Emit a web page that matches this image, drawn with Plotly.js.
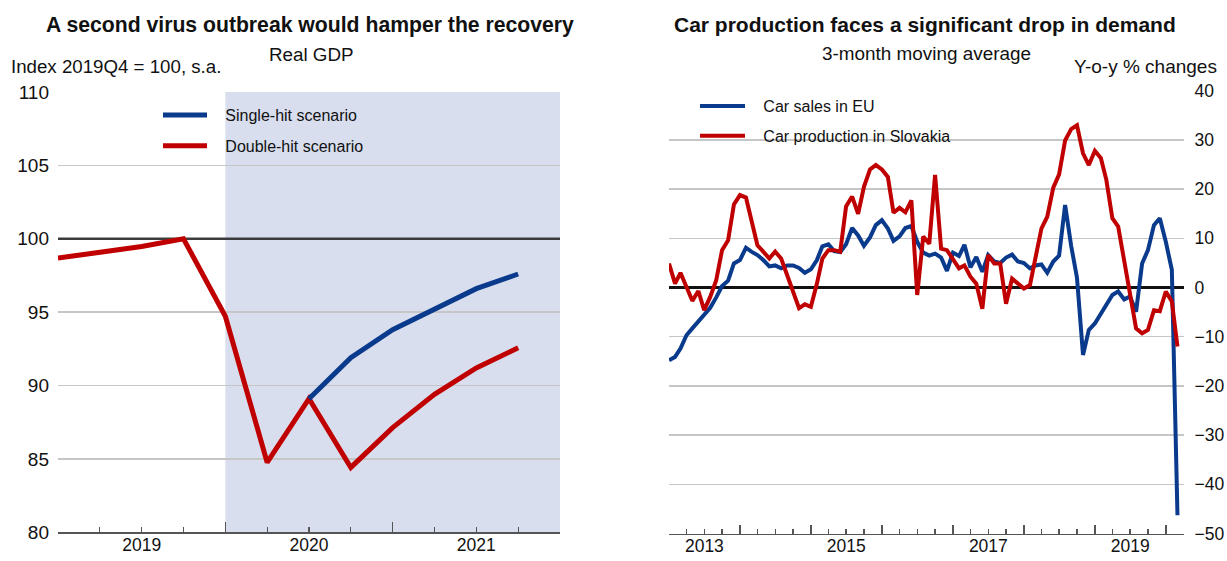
<!DOCTYPE html>
<html>
<head>
<meta charset="utf-8">
<script src="https://cdn.plot.ly/plotly-3.0.1.min.js"></script>
<style>html,body{margin:0;padding:0;background:#fff}#chart{width:1227px;height:561px}</style>
</head>
<body>
<div id="chart"></div>
<script>
// ---------- Left panel: Real GDP (index 2019Q4 = 100) ----------
const quarters = ['2019Q1','2019Q2','2019Q3','2019Q4','2020Q1','2020Q2','2020Q3','2020Q4','2021Q1','2021Q2','2021Q3','2021Q4'];
const singleHit = [null, null, null, null, null, null, 89.1, 91.9, 93.8, 95.2, 96.6, 97.6];
const doubleHit = [98.68, 99.07, 99.47, 100.0, 94.72, 84.76, 89.1, 84.42, 87.13, 89.4, 91.2, 92.57];
const gdpYears = ['2019', '2020', '2021'];
const projectionStart = '2020Q1';
const projectionEnd = '2022Q1';
const baseLevel = 100;

// ---------- Right panel: cars, y-o-y % changes, 3-month moving average ----------
const monthStart = '2013-01';   // first month of the series (monthly data through 2020-03)
const carSalesEU = [
  -14.8, -14.1, -12.4, -9.7, -8.3, -6.8, -5.3, -4.1, -2.0, 0.3, 1.4, 4.9,
  5.6, 8.1, 7.3, 6.6, 5.6, 4.3, 4.5, 3.9, 4.5, 4.5, 4.0, 3.0,
  3.7, 5.6, 8.4, 8.8, 7.4, 7.2, 8.8, 12.1, 10.6, 8.5, 10.2, 12.7,
  13.7, 12.0, 9.5, 10.4, 12.1, 12.5, 9.3, 7.1, 6.5, 6.9, 6.1, 3.4,
  7.1, 6.4, 8.7, 4.1, 6.2, 3.2, 6.6, 5.3, 5.0, 6.1, 6.7, 5.3,
  5.0, 3.9, 4.5, 4.7, 3.0, 5.3, 6.5, 16.8, 8.5, 2.0, -13.7, -8.6,
  -7.3, -5.2, -3.2, -1.5, -0.8, -2.4, -1.8, -4.9, 4.9, 7.6, 12.7, 14.1,
  9.3, 3.6, -46.3
];
const carProdSK = [
  4.9, 0.8, 3.0, 0.1, -2.7, -0.7, -4.6, -1.9, 1.5, 7.6, 9.6, 16.9,
  18.8, 18.3, 14.0, 8.6, 7.3, 5.9, 7.3, 5.9, 2.5, -0.9, -4.2, -3.4,
  -3.9, 0.8, 5.9, 7.6, 7.6, 7.3, 16.5, 18.5, 15.0, 20.5, 24.0, 24.9,
  24.0, 22.5, 15.2, 16.2, 15.3, 17.7, -1.5, 10.4, 8.9, 22.9, 7.9, 7.6,
  5.7, 3.9, 4.5, 2.2, 0.8, -4.3, 6.6, 4.9, 4.9, -3.3, 1.8, 0.9,
  -0.2, 0.5, 6.2, 12.0, 14.4, 20.3, 23.0, 29.9, 32.2, 33.0, 27.3, 24.9,
  27.8, 26.3, 21.9, 14.1, 12.4, 5.6, -1.8, -8.3, -9.3, -8.6, -4.6, -4.8,
  -0.8, -2.8, -12.0
];
const carYearLabels = ['2013', '2015', '2017', '2019'];
const carAxisStart = '2013-01-01';
const carAxisEnd = '2020-04-01';

// ---------- helpers ----------
function quarterToNum(q) { return +q.slice(0, 4) + (+q.slice(5) - 1) / 4; }
function monthList(start, n) {
  const out = []; let y = +start.slice(0, 4), m = +start.slice(5, 7) - 1;
  for (let i = 0; i < n; i++) { const yy = y + Math.floor((m + i) / 12), mm = (m + i) % 12 + 1; out.push(yy + '-' + String(mm).padStart(2, '0') + '-01'); }
  return out;
}
const qx = quarters.map(quarterToNum);
const months = monthList(monthStart, carSalesEU.length);
const gdpRange = [quarterToNum(quarters[0]), quarterToNum(projectionEnd)];

const BLUE = '#0a3a8c', RED = '#c00000';
const FONT = 'Liberation Sans, Arial, sans-serif';
const TXT = '#111';
const GRID = '#c6c6c6';
const AX = '#555';
const PAD = '\u00a0\u00a0\u00a0';

const W = 1227, H = 561;
const px = v => v / W, py = v => 1 - v / H;

const traces = [
  {x: gdpRange, y: [baseLevel, baseLevel], mode: 'lines', line: {color: '#3c3c3c', width: 2.5}, xaxis: 'x', yaxis: 'y', showlegend: false, hoverinfo: 'skip'},
  {x: qx, y: doubleHit, name: PAD + 'Double-hit scenario', mode: 'lines', line: {color: RED, width: 5}, xaxis: 'x', yaxis: 'y', legend: 'legend', legendgroup: 'd', legendrank: 2, hoverinfo: 'skip'},
  {x: qx, y: singleHit, name: PAD + 'Single-hit scenario', mode: 'lines', line: {color: BLUE, width: 5}, xaxis: 'x', yaxis: 'y', legend: 'legend', legendgroup: 's', legendrank: 1, hoverinfo: 'skip'},
  {x: [qx[0]], y: [baseLevel], mode: 'lines', xaxis: 'x3', yaxis: 'y', showlegend: false, hoverinfo: 'skip', line: {width: 0}},
  {x: months, y: carSalesEU, name: PAD + 'Car sales in EU', mode: 'lines', line: {color: BLUE, width: 4}, xaxis: 'x2', yaxis: 'y2', legend: 'legend2', legendgroup: 'e', legendrank: 1, hoverinfo: 'skip'},
  {x: months, y: carProdSK, name: PAD + 'Car production in Slovakia', mode: 'lines', line: {color: RED, width: 4}, xaxis: 'x2', yaxis: 'y2', legend: 'legend2', legendgroup: 'p', legendrank: 2, hoverinfo: 'skip'},
  {x: [months[0]], y: [0], mode: 'lines', xaxis: 'x4', yaxis: 'y2', showlegend: false, hoverinfo: 'skip', line: {width: 0}}
];

const leftDomX = [px(58), px(560)];
const rightDomX = [px(669), px(1183.5)];
const yDomL = [1 - 532.3 / H, 1 - 92 / H];
const yDomR = [1 - 533.5 / H, 1 - 90.8 / H];

const layout = {
  width: W, height: H,
  margin: {l: 0, r: 0, t: 0, b: 0},
  paper_bgcolor: '#fff', plot_bgcolor: 'rgba(0,0,0,0)',
  font: {family: FONT, color: TXT, size: 17},
  showlegend: true,
  xaxis: {
    domain: leftDomX, anchor: 'y', range: gdpRange,
    tickmode: 'linear', tick0: gdpRange[0], dtick: 1,
    ticks: 'inside', ticklen: 10, tickwidth: 1.5, tickcolor: AX, showticklabels: false,
    minor: {tick0: gdpRange[0], dtick: 0.25, ticks: 'inside', ticklen: 5, tickwidth: 1.2, tickcolor: AX, showgrid: false},
    showgrid: false, zeroline: false, showline: true, linecolor: AX, linewidth: 2, fixedrange: true
  },
  xaxis3: {
    overlaying: 'x', anchor: 'y', range: gdpRange,
    tickmode: 'array', tickvals: gdpYears.map(y => +y + 0.5), ticktext: gdpYears,
    ticks: '', showgrid: false, zeroline: false, showline: false, tickfont: {size: 17.5, color: TXT}, fixedrange: true
  },
  yaxis: {
    domain: yDomL, anchor: 'x', range: [80, 110], tickmode: 'linear', tick0: 80, dtick: 5,
    showgrid: true, gridcolor: GRID, gridwidth: 1.5, zeroline: false, showline: false, ticks: '',
    tickfont: {size: 19, color: TXT}, ticklabelstandoff: 8, fixedrange: true
  },
  xaxis2: {
    domain: rightDomX, anchor: 'y2', type: 'date', range: [carAxisStart, carAxisEnd],
    tickmode: 'linear', tick0: carAxisStart, dtick: 'M12',
    ticks: 'inside', ticklen: 9, tickwidth: 1.5, tickcolor: AX, showticklabels: false,
    minor: {tick0: carAxisStart, dtick: 'M3', ticks: 'inside', ticklen: 5, tickwidth: 1.2, tickcolor: AX, showgrid: false},
    showgrid: false, zeroline: false, showline: true, linecolor: AX, linewidth: 1.5, fixedrange: true
  },
  xaxis4: {
    overlaying: 'x2', anchor: 'y2', type: 'date', range: [carAxisStart, carAxisEnd],
    tickmode: 'array', tickvals: carYearLabels.map(y => y + '-07-02'), ticktext: carYearLabels,
    ticks: '', showgrid: false, zeroline: false, showline: false, tickfont: {size: 17.5, color: TXT}, fixedrange: true
  },
  yaxis2: {
    domain: yDomR, anchor: 'x2', side: 'right', range: [-50, 40], tickmode: 'linear', tick0: -50, dtick: 10,
    showgrid: true, gridcolor: GRID, gridwidth: 1.5, zeroline: true, zerolinecolor: '#111', zerolinewidth: 2.5,
    showline: false, ticks: '', tickfont: {size: 17.5, color: TXT}, ticklabelstandoff: 10, fixedrange: true
  },
  legend: {
    x: px(158), y: py(98), xanchor: 'left', yanchor: 'top', bgcolor: 'rgba(0,0,0,0)', borderwidth: 0,
    font: {size: 16, color: TXT}, tracegroupgap: 7, traceorder: 'grouped', itemwidth: 44
  },
  legend2: {
    x: px(695), y: py(89), xanchor: 'left', yanchor: 'top', bgcolor: 'rgba(0,0,0,0)', borderwidth: 0,
    font: {size: 16, color: TXT}, tracegroupgap: 6, traceorder: 'grouped', itemwidth: 45
  },
  shapes: [
    {type: 'rect', layer: 'below', xref: 'x', yref: 'y domain', x0: quarterToNum(projectionStart), x1: quarterToNum(projectionEnd), y0: 0, y1: 1, fillcolor: '#d8deee', line: {width: 0}}
  ],
  annotations: [
    {text: '<b>A second virus outbreak would hamper the recovery</b>', xref: 'paper', yref: 'paper', x: px(310), y: py(25), xanchor: 'center', yanchor: 'middle', showarrow: false, font: {size: 21.2, color: TXT}},
    {text: 'Real GDP', xref: 'paper', yref: 'paper', x: px(311), y: py(55), xanchor: 'center', yanchor: 'middle', showarrow: false, font: {size: 18.8, color: TXT}},
    {text: 'Index 2019Q4 = 100, s.a.', xref: 'paper', yref: 'paper', x: px(9), y: py(66), xanchor: 'left', yanchor: 'middle', showarrow: false, font: {size: 18.7, color: TXT}},
    {text: '<b>Car production faces a significant drop in demand</b>', xref: 'paper', yref: 'paper', x: px(925), y: py(25), xanchor: 'center', yanchor: 'middle', showarrow: false, font: {size: 21, color: TXT}},
    {text: '3-month moving average', xref: 'paper', yref: 'paper', x: px(926), y: py(54), xanchor: 'center', yanchor: 'middle', showarrow: false, font: {size: 18.9, color: TXT}},
    {text: 'Y-o-y % changes', xref: 'paper', yref: 'paper', x: px(1219), y: py(66), xanchor: 'right', yanchor: 'middle', showarrow: false, font: {size: 19, color: TXT}}
  ]
};

Plotly.newPlot('chart', traces, layout, {displayModeBar: false, staticPlot: true});
</script>
</body>
</html>
